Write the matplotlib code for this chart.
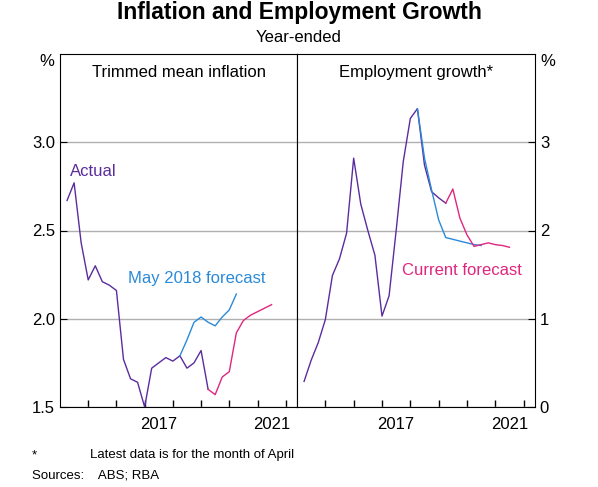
import matplotlib.pyplot as plt
import numpy as np

plt.rcParams['font.family'] = ['Liberation Sans', 'DejaVu Sans']

# Trimmed mean inflation (year-ended, %), quarterly
infl_x = [2014.25, 2014.5, 2014.75, 2015.0, 2015.25, 2015.5, 2015.75, 2016.0, 2016.25,
          2016.5, 2016.75, 2017.0, 2017.25, 2017.5, 2017.75, 2018.0, 2018.25, 2018.5,
          2018.75, 2019.0, 2019.25]
infl_y = [2.67, 2.77, 2.43, 2.22, 2.30, 2.21, 2.19, 2.16, 1.77, 1.66, 1.64, 1.50, 1.72,
          1.75, 1.78, 1.76, 1.79, 1.72, 1.75, 1.82, 1.60]
infl_may_x = [2018.25, 2018.5, 2018.75, 2019.0, 2019.25, 2019.5, 2019.75, 2020.0, 2020.25]
infl_may_y = [1.79, 1.88, 1.98, 2.01, 1.98, 1.96, 2.01, 2.05, 2.14]
infl_cur_x = [2019.25, 2019.5, 2019.75, 2020.0, 2020.25, 2020.5, 2020.75, 2021.0, 2021.25, 2021.5]
infl_cur_y = [1.60, 1.57, 1.67, 1.70, 1.92, 1.99, 2.02, 2.04, 2.06, 2.08]

# Employment growth (year-ended, %)
emp_x = [2014.25, 2014.5, 2014.75, 2015.0, 2015.25, 2015.5, 2015.75, 2016.0, 2016.25,
         2016.5, 2016.75, 2017.0, 2017.25, 2017.5, 2017.75, 2018.0, 2018.25, 2018.5,
         2018.75, 2019.0, 2019.25]
emp_y = [0.29, 0.53, 0.73, 0.99, 1.49, 1.68, 1.97, 2.82, 2.30, 2.00, 1.72, 1.03, 1.26,
         2.00, 2.78, 3.27, 3.38, 2.74, 2.44, 2.37, 2.31]
emp_may_x = [2018.25, 2018.5, 2018.75, 2019.0, 2019.25, 2019.5, 2019.75, 2020.0, 2020.25, 2020.5]
emp_may_y = [3.38, 2.82, 2.46, 2.12, 1.92, 1.90, 1.88, 1.86, 1.84, 1.83]
emp_cur_x = [2019.25, 2019.5, 2019.75, 2020.0, 2020.25, 2020.5, 2020.75, 2021.0, 2021.25, 2021.5]
emp_cur_y = [2.31, 2.47, 2.14, 1.95, 1.82, 1.84, 1.86, 1.84, 1.83, 1.81]

purple = "#5b2c9e"
blue = "#2a8ad8"
pink = "#e0267f"

fig = plt.figure(figsize=(5.98, 4.87), dpi=100)
axl = fig.add_axes([60 / 598, 1 - 407 / 487, 237 / 598, 353 / 487])
axr = fig.add_axes([297 / 598, 1 - 407 / 487, 238 / 598, 353 / 487])

for ax in (axl, axr):
    ax.set_xlim(2014.0, 2022.4)
    ax.set_xticks(np.arange(2015, 2023))
    ax.set_xticklabels([])
    ax.set_xticks([2017.5, 2021.5], minor=True)
    ax.set_xticklabels(["2017", "2021"], minor=True)
    ax.tick_params(axis="x", which="major", direction="in", length=5, width=1)
    ax.tick_params(axis="x", which="minor", length=0, labelsize=12, pad=7)
    ax.tick_params(axis="y", direction="in", length=5, labelsize=12)
    ax.grid(axis="y", color="#b0b0b0", lw=1)
    ax.set_axisbelow(True)

axl.plot(infl_x, infl_y, color=purple, lw=1)
axl.plot(infl_may_x, infl_may_y, color=blue, lw=1)
axl.plot(infl_cur_x, infl_cur_y, color=pink, lw=1)
axl.set_ylim(1.5, 3.5)
axl.set_yticks([1.5, 2.0, 2.5, 3.0])
axl.set_yticklabels(["1.5", "2.0", "2.5", "3.0"])
axl.text(0.5, 0.97, "Trimmed mean inflation", transform=axl.transAxes, ha="center", va="top", fontsize=12)
axl.text(2014.35, 2.81, "Actual", color=purple, fontsize=12)
axl.text(2016.4, 2.2, "May 2018 forecast", color=blue, fontsize=12)

axr.plot(emp_x, emp_y, color=purple, lw=1)
axr.plot(emp_may_x, emp_may_y, color=blue, lw=1)
axr.plot(emp_cur_x, emp_cur_y, color=pink, lw=1)
axr.set_ylim(0, 4)
axr.set_yticks([0, 1, 2, 3])
axr.yaxis.tick_right()
axr.text(0.5, 0.97, "Employment growth*", transform=axr.transAxes, ha="center", va="top", fontsize=12)
axr.text(2017.7, 1.5, "Current forecast", color=pink, fontsize=12)

fig.text(47 / 598, 1 - 62 / 487, "%", ha="center", va="center", fontsize=12)
fig.text(548 / 598, 1 - 62 / 487, "%", ha="center", va="center", fontsize=12)
fig.text(0.5, 1 - 13 / 487, "Inflation and Employment Growth", ha="center", va="center",
         fontsize=16.5, fontweight="bold")
fig.text(0.5, 1 - 37 / 487, "Year-ended", ha="center", va="center", fontsize=12)
fig.text(32 / 598, 1 - 455 / 487, "*", ha="left", va="center", fontsize=9.5)
fig.text(90 / 598, 1 - 455 / 487, "Latest data is for the month of April", ha="left", va="center", fontsize=9.5)
fig.text(32 / 598, 1 - 475 / 487, "Sources:    ABS; RBA", ha="left", va="center", fontsize=9.5)

fig.savefig("out.png", dpi=100)
